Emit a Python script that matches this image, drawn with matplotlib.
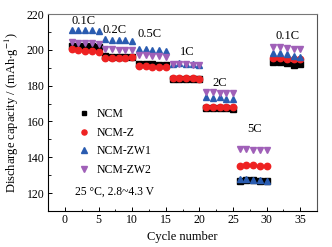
import matplotlib
matplotlib.use("Agg")
import matplotlib.pyplot as plt
from matplotlib.ticker import MultipleLocator

plt.rcParams['font.family'] = ['Liberation Serif', 'DejaVu Serif']
plt.rcParams['mathtext.fontset'] = 'stix'

# ---- Data ----
cycles = list(range(1, 36))
ncm = [202, 202, 202, 202, 201.5,
       196.5, 196, 196, 196, 196,
       192, 192, 192, 191.5, 191.5,
       184, 184, 183.5, 183.5, 183.5,
       167.5, 167.5, 167.5, 167.5, 167,
       127, 127.5, 127.5, 127, 126.5,
       193, 193, 192.5, 191.5, 192]
ncm_z = [200.5, 200, 199.5, 199.5, 199,
         195.5, 195.5, 195.5, 195.5, 196,
         191, 191, 190.5, 190.5, 190.5,
         184.5, 184.5, 184.5, 184.5, 184,
         168, 168, 168, 168, 168,
         135, 135.5, 135.5, 135, 135,
         195.5, 195.5, 195, 195, 195]
ncm_zw1 = [211, 211, 211, 211, 210.5,
           206, 205.5, 205.5, 205.5, 205,
           200.5, 200.5, 200, 200, 199.5,
           192, 192.5, 192, 192, 191.5,
           173.5, 173, 173.5, 172.5, 172.5,
           128, 128, 127.5, 127.5, 127,
           198.5, 198, 197.5, 196.5, 196]
ncm_zw2 = [204.5, 204, 204, 204, 203.5,
           200.5, 200.5, 200, 200, 200,
           197, 197, 196.5, 196.5, 196,
           192, 192, 192, 191.5, 191.5,
           176.5, 176.5, 176, 176, 176,
           144.5, 144.5, 144, 144, 144,
           201.5, 201.5, 201, 200.5, 200.5]

rate_labels = ['0.1C', '0.2C', '0.5C', '1C', '2C', '5C', '0.1C']
rate_x = [2.7, 7.4, 12.6, 18.2, 23.0, 28.2, 33.1]
rate_y = [216.0, 211.0, 208.7, 198.8, 181.5, 155.9, 207.5]

# ---- Plotting ----
fig = plt.figure(figsize=(3.32, 2.47), dpi=100)
ax = fig.add_axes([0.145, 0.146, 0.81, 0.797])

ms = 4.6
ax.plot(cycles, ncm, 's', color='black', ms=ms - 0.6, label='NCM', lw=0)
ax.plot(cycles, ncm_z, 'o', color='#ee2222', ms=ms, label='NCM-Z', lw=0)
ax.plot(cycles, ncm_zw1, '^', color='#2a5cb0', ms=ms, label='NCM-ZW1', lw=0)
ax.plot(cycles, ncm_zw2, 'v', color='#a060b8', ms=ms, label='NCM-ZW2', lw=0)

for lab, x, y in zip(rate_labels, rate_x, rate_y):
    ax.text(x, y, lab, ha='center', va='center', fontsize=9)

ax.text(0.10, 0.10, '25 °C, 2.8~4.3 V', transform=ax.transAxes,
        fontsize=8.4, ha='left', va='center')

ax.set_xlim(-2.5, 37.5)
ax.set_ylim(110, 220)
ax.xaxis.set_major_locator(MultipleLocator(5))
ax.xaxis.set_minor_locator(MultipleLocator(2.5))
ax.yaxis.set_major_locator(MultipleLocator(20))
ax.yaxis.set_minor_locator(MultipleLocator(10))
ax.set_yticks([120, 140, 160, 180, 200, 220])
ax.tick_params(which='both', direction='in', labelsize=8.5, pad=2.5)
ax.tick_params(which='major', length=3, width=0.7)
ax.tick_params(which='minor', length=1.8, width=0.6)
for s in ax.spines.values():
    s.set_linewidth(0.8)
ax.spines['top'].set_color('#777777')
ax.spines['right'].set_color('#555555')

ax.set_xlabel('Cycle number', fontsize=9, labelpad=3)
ax.set_ylabel('Discharge capacity / (mAh$\\cdot$g$^{-1}$)', fontsize=9, labelpad=4)

ax.legend(loc='center left', bbox_to_anchor=(0.08, 0.35), frameon=False,
          fontsize=8.5, handlelength=1.0, handletextpad=0.6, labelspacing=0.55,
          borderpad=0.2, markerscale=0.8)

plt.savefig('out.png', dpi=100)
